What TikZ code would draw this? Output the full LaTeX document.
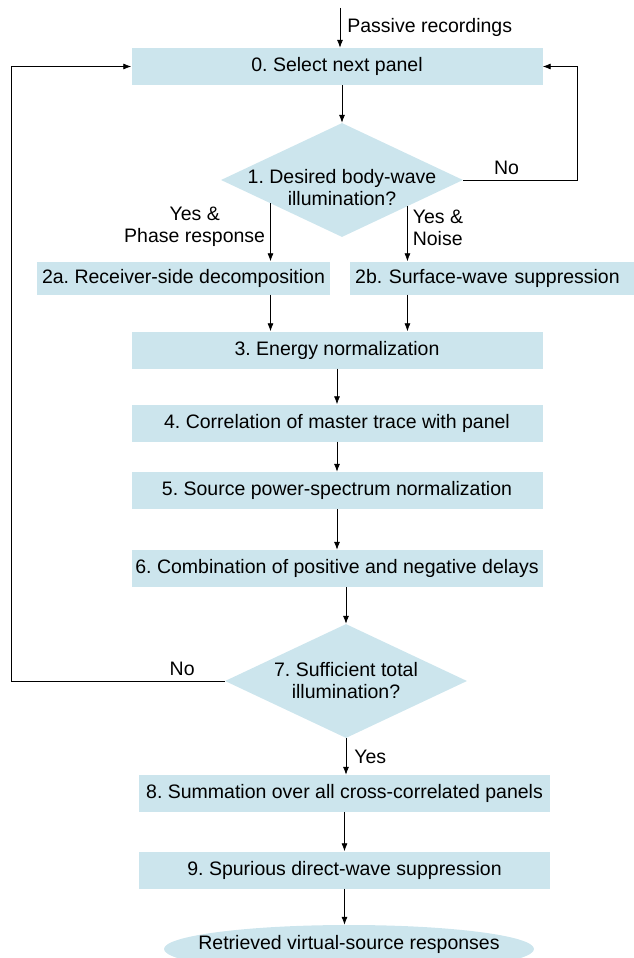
\documentclass[tikz,border=0pt]{standalone}
\usepackage{fontspec}
\setmainfont{Liberation Sans}
\usetikzlibrary{arrows.meta,shapes.geometric,positioning,calc}
\definecolor{vsPanel}{HTML}{CCE5ED}
\newcommand{\vsfont}{\fontsize{19.5}{22}\selectfont}
\frenchspacing
\tikzset{
  vsnode/.style={fill=vsPanel, font=\vsfont, align=center, inner sep=0pt},
  stepbox/.style={vsnode, minimum width=411pt, minimum height=37pt},
  sidebox/.style={vsnode, minimum height=33pt},
  decision/.style={vsnode, diamond, minimum width=242pt, minimum height=114pt},
  result/.style={vsnode, ellipse, minimum width=370pt, minimum height=48pt},
  flow/.style={-{Latex[length=8pt,width=6pt]}, line width=0.75pt, black},
  tag/.style={font=\vsfont, inner sep=0pt, align=center}
}
\begin{document}
\begin{tikzpicture}[x=1pt,y=-1pt]
  \useasboundingbox (0,0) rectangle (633,958);
  % main column
  \node[stepbox] (s0) at (337,66.5) {0. Select next panel};
  \coordinate (src) at (340,8);
  \draw[flow] (src) -- (src |- s0.north) node[midway, right=7pt, tag] {Passive recordings};
  \node[decision, label={[tag, yshift=-8pt]center:{1. Desired body-wave\\illumination?}}] (d1) at (342,180) {};
  \draw[flow] (s0.south -| d1) -- (d1.north);
  % two branches
  \node[sidebox, minimum width=293pt] (s2a) at (183.5,278) {2a. Receiver-side decomposition};
  \node[sidebox, anchor=west, text width=280pt, align=left, inner xsep=5pt] (s2b) at (350,278) {2b. Surface-wave suppression};
  \coordinate (ya) at ($(d1.west)!0.41!(d1.south)$);
  \coordinate (yb) at ($(d1.east)!0.46!(d1.south)$);
  \draw[flow] (ya) -- (ya |- s2a.north) node[pos=0.4, left=5pt, tag] {Yes \&\\Phase response};
  \draw[flow] (yb) -- (yb |- s2b.north) node[pos=0.4, right=5pt, tag, align=left] {Yes \&\\Noise};
  \node[stepbox] (s3) at (337,350) {3. Energy normalization};
  \draw[flow] (ya |- s2a.south) -- (ya |- s3.north);
  \draw[flow] (yb |- s2b.south) -- (yb |- s3.north);
  \node[stepbox] (s4) at (337,423) {4. Correlation of master trace with panel};
  \node[stepbox] (s5) at (337,490.5) {5. Source power-spectrum normalization};
  \node[stepbox] (s6) at (337,568.5) {6. Combination of positive and negative delays};
  \draw[flow] (s3) -- (s4);
  \draw[flow] (s4) -- (s5);
  \draw[flow] (s5) -- (s6);
  \node[decision, label={[tag]center:{7. Sufficient total\\illumination?}}] (d7) at (346,681) {};
  \draw[flow] (s6.south -| d7) -- (d7.north);
  \node[stepbox] (s8) at (344.5,793.5) {8. Summation over all cross-correlated panels};
  \node[stepbox] (s9) at (344.5,870) {9. Spurious direct-wave suppression};
  \node[result, label={[tag, yshift=5pt]center:Retrieved virtual-source responses}] (res) at (349,949) {};
  \draw[flow] (d7.south) -- (d7.south |- s8.north) node[midway, right=8pt, tag] {Yes};
  \draw[flow] (s8) -- (s9);
  \draw[flow] (s9.south) -- (s9.south |- res.north);
  % feedback loops
  \draw[flow] (d1.east) -- node[tag, above=5pt, pos=0.38] {No} ++(114,0) |- (s0.east);
  \draw[flow] (d7.west) -- node[tag, above=5pt, pos=0.2] {No} ++(-213,0) |- (s0.west);
\end{tikzpicture}
\end{document}
